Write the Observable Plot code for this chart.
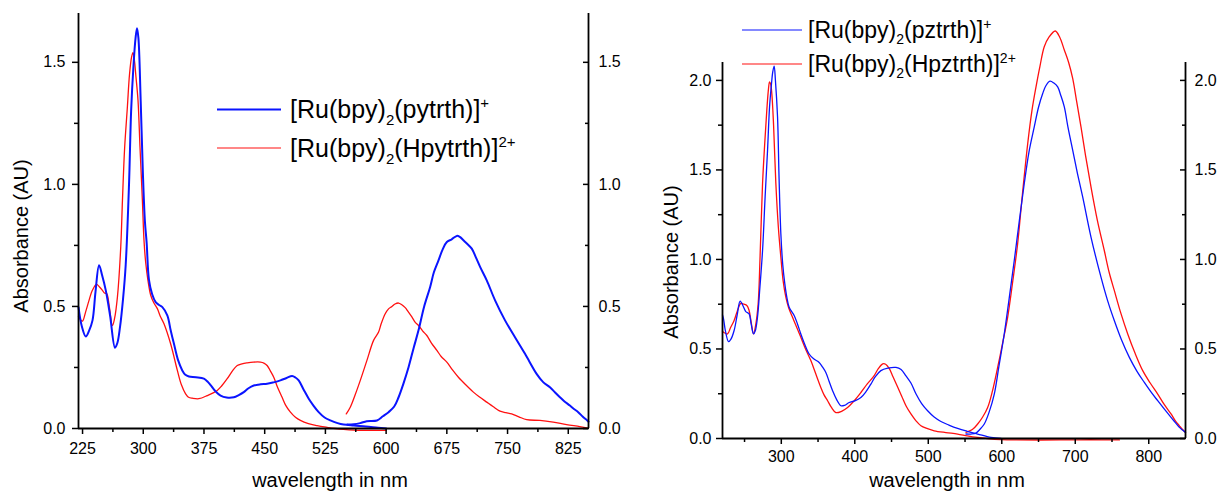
<!DOCTYPE html>
<html><head><meta charset="utf-8">
<script src="https://cdn.jsdelivr.net/npm/d3@7"></script>
<script src="https://cdn.jsdelivr.net/npm/@observablehq/plot@0.6"></script>
<style>
html,body{margin:0;padding:0;background:#fff;}
#root{position:relative;width:1218px;height:492px;overflow:hidden;font-family:"Liberation Sans",Arial,sans-serif;color:#000;background:#fff;}
.panel{position:absolute;top:0;}
.panel svg{overflow:visible;}
.title{position:absolute;font-size:20px;white-space:nowrap;line-height:1;}
.ytitle{transform:translate(-50%,-50%) rotate(-90deg);}
.xtitle{transform:translate(-50%,-50%);}
.leg{position:absolute;display:flex;align-items:center;transform:translateY(-50%);white-space:nowrap;line-height:1;}
.sw{display:inline-block;height:0;border-top-style:solid;}
.leg sub,.leg sup{line-height:0;}
</style></head>
<body><div id="root"></div>
<script>
// ---------- Left panel: [Ru(bpy)2(pytrth)]+ / [Ru(bpy)2(Hpytrth)]2+ ----------
const leftTitles = {y: "Absorbance (AU)", x: "wavelength in nm"};
const leftLegend = ["pytrth", "Hpytrth"];
const leftXMajor = [225, 300, 375, 450, 525, 600, 675, 750, 825];
const leftXMinor = [262.5, 337.5, 412.5, 487.5, 562.5, 637.5, 712.5, 787.5];
const leftYMajor = [0, 0.5, 1.0, 1.5];
const leftYMinor = [0.25, 0.75, 1.25];

const leftBlueUV = [[220,0.497],[224,0.42],[229,0.377],[233,0.40],[237.3,0.443],[241,0.56],[245.4,0.669],[249,0.63],[253.7,0.566],[259,0.463],[265.1,0.331],[268,0.35],[271.3,0.416],[275,0.53],[278.3,0.67],[282.4,1.0],[285,1.30],[287.8,1.48],[290.5,1.60],[292.3,1.64],[294,1.60],[296.8,1.345],[299.5,1.05],[302,0.85],[304.2,0.76],[307,0.61],[311,0.55],[315.3,0.518],[320,0.505],[323.6,0.497],[329.7,0.463],[334,0.40],[337.9,0.347],[343,0.28],[348.2,0.238],[352,0.22],[356.4,0.213],[365,0.210],[374.9,0.204],[380,0.19],[385.2,0.169],[390,0.15],[395.5,0.135],[403,0.127],[411.9,0.128],[418,0.137],[424.2,0.149],[430,0.165],[436.5,0.176],[445,0.181],[453,0.183],[461,0.189],[469.4,0.197],[477,0.207],[483.9,0.215],[488,0.209],[492,0.197],[498,0.16],[504.4,0.122],[510,0.095],[516.7,0.067],[524,0.045],[531.1,0.033],[540,0.022],[547.5,0.016],[560,0.012],[575,0.008],[590,0.003],[600,0.0]];
const leftBlueNIR = [[552,0.016],[560,0.017],[568,0.022],[576,0.030],[588.7,0.033],[596,0.05],[603,0.067],[610,0.09],[615.4,0.128],[621,0.18],[627.7,0.251],[634,0.33],[640,0.402],[647,0.50],[654.4,0.58],[659,0.64],[664.7,0.689],[670,0.735],[675,0.764],[681,0.775],[687.3,0.789],[691,0.785],[695.5,0.771],[700,0.757],[705.8,0.737],[711,0.70],[716.1,0.662],[724.3,0.607],[734.6,0.525],[746.9,0.443],[759.2,0.374],[771.6,0.306],[785.9,0.224],[794,0.19],[802.4,0.169],[808,0.15],[814.7,0.128],[820,0.112],[827,0.094],[832,0.08],[837.3,0.067],[843,0.048],[848.4,0.033],[850,0.028]];
const leftRedUV = [[220,0.46],[223,0.443],[225,0.44],[229,0.48],[233,0.525],[237,0.565],[242.2,0.59],[246,0.58],[249.6,0.566],[252,0.555],[254.9,0.552],[258,0.50],[261.9,0.422],[264.5,0.45],[268.1,0.539],[272.2,0.744],[274.3,0.935],[277,1.15],[280.4,1.318],[283,1.45],[285.5,1.52],[287.3,1.54],[289,1.51],[291,1.44],[293.5,1.345],[296,1.15],[298.9,0.935],[300.9,0.771],[303,0.68],[305.8,0.607],[309.2,0.546],[313,0.515],[317.4,0.491],[321,0.46],[325.6,0.429],[333.8,0.347],[342.1,0.238],[347,0.18],[352.3,0.142],[356,0.128],[360.6,0.124],[368.7,0.122],[379.1,0.135],[391.4,0.156],[397,0.175],[403.7,0.204],[410,0.235],[416.1,0.258],[422,0.265],[428.4,0.269],[436,0.272],[444.8,0.272],[449,0.268],[453,0.258],[457,0.236],[461.2,0.21],[466,0.168],[471.5,0.128],[476,0.095],[481.8,0.067],[488,0.046],[494.1,0.033],[504,0.02],[514.7,0.012],[527,0.005],[537,0.0],[547.5,-0.004],[560,-0.007],[575,-0.008],[590,-0.008],[600,-0.008]];
const leftRedNIR = [[550.8,0.06],[555.7,0.087],[562,0.14],[568.1,0.197],[576.3,0.279],[584.5,0.361],[590.7,0.395],[594,0.43],[598.9,0.47],[603,0.49],[607.2,0.50],[611,0.51],[615.4,0.514],[619,0.508],[623.6,0.495],[627,0.48],[631.8,0.457],[636,0.435],[640,0.422],[645,0.40],[650.3,0.381],[656,0.35],[662.7,0.32],[668,0.295],[675,0.272],[682,0.24],[689.3,0.21],[698,0.18],[707.8,0.149],[715,0.13],[724.3,0.108],[732,0.09],[740.7,0.071],[748,0.065],[755.1,0.06],[764,0.048],[773.6,0.036],[790,0.033],[806.4,0.026],[822.9,0.016],[839.3,0.008],[847.6,0.003],[850,0.001]];

// ---------- Right panel: [Ru(bpy)2(pztrth)]+ / [Ru(bpy)2(Hpztrth)]2+ ----------
const rightLegend = ["pztrth", "Hpztrth"];
const rightXMajor = [300, 400, 500, 600, 700, 800];
const rightXMinor = [250, 350, 450, 550, 650, 750];
const rightYMajor = [0, 0.5, 1.0, 1.5, 2.0];
const rightYMinor = [0.25, 0.75, 1.25, 1.75];

const rightBlueUV = [[220,0.69],[221.4,0.668],[224,0.60],[228.2,0.541],[231.5,0.555],[235.8,0.603],[240,0.69],[244,0.767],[248,0.74],[251.7,0.709],[256.2,0.696],[259,0.64],[262.2,0.584],[264.5,0.6],[267.6,0.677],[271,0.85],[274.5,1.05],[278,1.35],[281.3,1.61],[284,1.85],[286.7,1.983],[288.5,2.05],[290.3,2.08],[292,2.0],[294.9,1.796],[297,1.45],[299.4,1.144],[302,0.97],[304.8,0.864],[307.5,0.79],[310.7,0.733],[317.5,0.687],[322,0.64],[326.6,0.584],[332,0.525],[337.9,0.472],[344,0.445],[351.5,0.425],[356,0.40],[360.6,0.369],[365,0.32],[369.8,0.267],[375,0.22],[381.1,0.183],[386,0.185],[392.4,0.201],[400,0.21],[408.3,0.229],[415,0.26],[421.9,0.304],[428,0.345],[435.5,0.379],[445,0.393],[456,0.397],[463,0.385],[469.6,0.35],[476.4,0.31],[483.2,0.25],[491,0.195],[499.1,0.155],[508,0.12],[517.2,0.095],[528,0.075],[539.9,0.056],[553,0.04],[567.2,0.025],[585.3,0.006],[599,0.0]];
const rightBlueNIR = [[551.3,0.025],[558,0.025],[564.9,0.03],[570,0.05],[576.2,0.081],[583,0.15],[589.8,0.248],[596,0.40],[603.4,0.584],[610,0.78],[617,0.994],[624,1.22],[630.6,1.424],[637,1.60],[644.2,1.74],[650,1.85],[655.7,1.927],[660,1.97],[665.6,1.996],[671,1.985],[676.1,1.964],[680,1.92],[685.1,1.852],[690,1.74],[696.5,1.61],[703,1.48],[710.1,1.349],[721.4,1.125],[735,0.901],[744,0.77],[753.1,0.659],[763,0.55],[773.6,0.453],[784,0.375],[794,0.313],[803,0.26],[812.2,0.211],[821,0.165],[830.3,0.118],[836,0.09],[841.7,0.062],[846,0.047],[850,0.033]];
const rightRedUV = [[220,0.60],[221.4,0.593],[226.8,0.584],[231,0.62],[235.8,0.659],[240,0.71],[244.9,0.755],[249,0.75],[253.1,0.743],[256.2,0.715],[259,0.65],[262.2,0.584],[265,0.63],[268.5,0.752],[271,1.0],[274.5,1.424],[277.5,1.65],[280.3,1.834],[282.5,1.95],[284,1.992],[285.5,1.98],[287.1,1.927],[289.5,1.75],[292.6,1.424],[296,1.18],[299.4,1.013],[302.5,0.88],[306.2,0.789],[310,0.73],[315.3,0.677],[320.5,0.625],[326.6,0.565],[333,0.50],[340.2,0.435],[347,0.36],[353.8,0.285],[358,0.245],[363,0.211],[368,0.175],[374.3,0.145],[382,0.152],[390.2,0.173],[399,0.21],[408.3,0.257],[417,0.305],[426.4,0.351],[432,0.39],[438,0.417],[442,0.415],[447,0.39],[452,0.345],[458,0.29],[464,0.235],[470,0.18],[476.4,0.137],[483,0.10],[490,0.071],[499,0.055],[508.1,0.043],[524,0.033],[539.9,0.025],[553,0.015],[567.2,0.006],[580,0.0],[599,-0.006],[620,-0.008],[680,-0.008],[720,-0.007],[760,-0.008]];
const rightRedNIR = [[551.3,0.034],[560,0.05],[567.2,0.081],[574,0.12],[580.8,0.173],[587,0.26],[594.4,0.397],[601,0.53],[608,0.677],[615,0.88],[621.6,1.088],[628,1.36],[635.3,1.647],[641,1.83],[646.6,1.964],[652,2.08],[657.8,2.188],[664,2.24],[672.8,2.276],[679,2.24],[685.1,2.17],[691,2.10],[696.5,2.011],[702,1.88],[707.8,1.74],[714,1.58],[721.4,1.405],[730,1.22],[739.5,1.05],[746,0.93],[753.1,0.827],[762,0.70],[771.4,0.584],[781,0.48],[791.8,0.379],[802,0.31],[812.2,0.248],[821,0.19],[830.3,0.137],[836,0.10],[841.7,0.071],[846,0.05],[850,0.034]];

const BLUE = "#0a14ff", RED = "#ff1010";
const toRows = arr => arr.map(([nm, abs]) => ({nm, abs}));
const fmt1 = d3.format(".1f");
const blank = () => "";

function makePanel(o) {
  return Plot.plot({
    width: o.width, height: 492,
    marginLeft: o.mL, marginRight: o.mR, marginTop: o.mT, marginBottom: o.mB,
    x: {domain: [220, 850]},
    y: {domain: o.yDomain},
    style: {fontFamily: '"Liberation Sans", Arial, sans-serif', fontSize: "16px", color: "#000", background: "transparent", overflow: "visible"},
    marks: [
      ...o.series.map(s => Plot.line(toRows(s.data), {x: "nm", y: "abs", stroke: s.color, strokeWidth: s.w, curve: "catmull-rom"})),
      Plot.ruleX([220, 850], {strokeWidth: 1.8}),
      Plot.ruleY([0], {strokeWidth: 1.8}),
      Plot.axisX(o.xMajor, {anchor: "bottom", tickSize: 6, tickPadding: o.xPad, tickFormat: d3.format("d"), label: null, strokeWidth: 1.5}),
      Plot.axisX(o.xMinor, {anchor: "bottom", tickSize: 4, tickFormat: blank, label: null, strokeWidth: 1.5}),
      Plot.axisY(o.yMajor, {anchor: "left", tickSize: 6, tickPadding: o.yPadL, tickFormat: fmt1, label: null, strokeWidth: 1.5}),
      Plot.axisY(o.yMinor, {anchor: "left", tickSize: 4, tickFormat: blank, label: null, strokeWidth: 1.5}),
      Plot.axisY(o.yMajor, {anchor: "right", tickSize: 6, insetRight: 6, tickFormat: blank, label: null, strokeWidth: 1.5}),
      Plot.axisY(o.yMinor, {anchor: "right", tickSize: 4, insetRight: 4, tickFormat: blank, label: null, strokeWidth: 1.5}),
      Plot.axisY(o.yMajor, {anchor: "right", tickSize: 0, tickPadding: o.yPadR, tickFormat: fmt1, label: null})
    ]
  });
}

const root = document.getElementById("root");
function addDiv(cls, html, left, top) {
  const d = document.createElement("div");
  d.className = cls; d.innerHTML = html;
  d.style.left = left + "px"; d.style.top = top + "px";
  root.appendChild(d); return d;
}

const leftPanel = makePanel({
  width: 640, mL: 78, mR: 52, mT: 13, mB: 64, yDomain: [0, 1.7],
  xMajor: leftXMajor, xMinor: leftXMinor, yMajor: leftYMajor, yMinor: leftYMinor,
  xPad: 8, yPadL: 7, yPadR: 10,
  series: [
    {data: leftRedUV, color: RED, w: 1.3}, {data: leftRedNIR, color: RED, w: 1.3},
    {data: leftBlueUV, color: BLUE, w: 2}, {data: leftBlueNIR, color: BLUE, w: 2}
  ]
});
const rightPanel = makePanel({
  width: 608, mL: 112, mR: 33, mT: 62, mB: 54, yDomain: [0, 2.1],
  xMajor: rightXMajor, xMinor: rightXMinor, yMajor: rightYMajor, yMinor: rightYMinor,
  xPad: 6, yPadL: 5, yPadR: 9,
  series: [
    {data: rightRedUV, color: RED, w: 1.3}, {data: rightRedNIR, color: RED, w: 1.3},
    {data: rightBlueUV, color: BLUE, w: 1.3}, {data: rightBlueNIR, color: BLUE, w: 1.3}
  ]
});
const lp = document.createElement("div"); lp.className = "panel"; lp.style.left = "0px"; lp.appendChild(leftPanel); root.appendChild(lp);
const rp = document.createElement("div"); rp.className = "panel"; rp.style.left = "610px"; rp.appendChild(rightPanel); root.appendChild(rp);

// axis titles
addDiv("title ytitle", leftTitles.y, 21, 236);
addDiv("title xtitle", leftTitles.x, 330, 480);
addDiv("title ytitle", leftTitles.y, 671, 262);
addDiv("title xtitle", leftTitles.x, 947, 480);

// legends
function legendItem(name, charge, color, w, swW, gap, left, top, fs) {
  const small = Math.round(fs * 0.6);
  const html = `<span class="sw" style="width:${swW}px;border-top-width:${w}px;border-top-color:${color};margin-right:${gap}px"></span>` +
    `<span style="font-size:${fs}px">[Ru(bpy)<sub style="font-size:${small}px;vertical-align:-${Math.round(fs*0.28)}px">2</sub>(${name})]<sup style="font-size:${small}px;vertical-align:${Math.round(fs*0.4)}px">${charge}</sup></span>`;
  addDiv("leg", html, left, top);
}
legendItem(leftLegend[0], "+", BLUE, 2, 64, 9, 217, 109, 25);
legendItem(leftLegend[1], "2+", RED, 1.3, 64, 9, 217, 148, 25);
legendItem(rightLegend[0], "+", BLUE, 1.3, 60, 6, 742, 30, 23);
legendItem(rightLegend[1], "2+", RED, 1.3, 60, 6, 742, 64, 23);
</script>
</body></html>
